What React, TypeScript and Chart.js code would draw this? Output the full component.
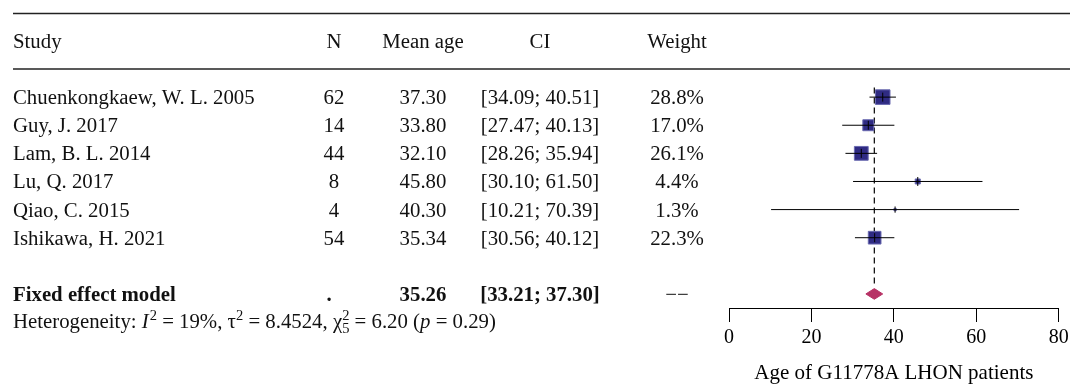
import React, { useEffect, useRef } from 'react';
import { Chart, registerables } from 'chart.js';

Chart.register(...registerables);

// ---------- data ----------
const headers = ['Study', 'N', 'Mean age', 'CI', 'Weight'];
const studies = [
  'Chuenkongkaew, W. L. 2005',
  'Guy, J. 2017',
  'Lam, B. L. 2014',
  'Lu, Q. 2017',
  'Qiao, C. 2015',
  'Ishikawa, H. 2021',
];
const sampleSizes = [62, 14, 44, 8, 4, 54];
const meanAges = [37.3, 33.8, 32.1, 45.8, 40.3, 35.34];
const ciLower = [34.09, 27.47, 28.26, 30.1, 10.21, 30.56];
const ciUpper = [40.51, 40.13, 35.94, 61.5, 70.39, 40.12];
const weights = [28.8, 17.0, 26.1, 4.4, 1.3, 22.3];
const pooledLabel = 'Fixed effect model';
const pooledMean = 35.26;
const pooledLower = 33.21;
const pooledUpper = 37.3;
const xTickValues = [0, 20, 40, 60, 80];
const axisTitle = 'Age of G11778A LHON patients';

const FAMILY = '"Liberation Serif", "Times New Roman", serif';
const POOLED_ROW = studies.length + 1;
const HET_ROW = POOLED_ROW + 1;

const COL_STUDY = 13;
const COL_N = 334;
const COL_MEAN = 423;
const COL_CI = 540;
const COL_WEIGHT = 677;
const TEXT_OFFSET = 7;
const FS = 20.8;

const tablePlugin = {
  id: 'forestTable',
  afterDraw(chart: any) {
    const ctx: CanvasRenderingContext2D = chart.ctx;
    const ys = chart.scales.y;
    const rowY = (r: number) => ys.getPixelForValue(r);
    ctx.save();
    // rules
    ctx.strokeStyle = '#222';
    ctx.lineWidth = 1.4;
    [rowY(-3) + 0.7, rowY(-1)].forEach((yy) => {
      ctx.beginPath();
      ctx.moveTo(COL_STUDY, yy);
      ctx.lineTo(1070, yy);
      ctx.stroke();
    });

    ctx.fillStyle = '#111';
    ctx.textBaseline = 'alphabetic';
    const reg = `${FS}px ${FAMILY}`;
    const bold = `bold ${FS}px ${FAMILY}`;
    const put = (t: string, x: number, y: number, align: CanvasTextAlign, font: string) => {
      ctx.font = font;
      ctx.textAlign = align;
      ctx.fillText(t, x, y);
    };
    // header
    const hy = rowY(-2) + TEXT_OFFSET;
    put(headers[0], COL_STUDY, hy, 'left', reg);
    put(headers[1], COL_N, hy, 'center', reg);
    put(headers[2], COL_MEAN, hy, 'center', reg);
    put(headers[3], COL_CI, hy, 'center', reg);
    put(headers[4], COL_WEIGHT, hy, 'center', reg);

    studies.forEach((s, i) => {
      const y = rowY(i) + TEXT_OFFSET;
      put(s, COL_STUDY, y, 'left', reg);
      put(String(sampleSizes[i]), COL_N, y, 'center', reg);
      put(meanAges[i].toFixed(2), COL_MEAN, y, 'center', reg);
      put(`[${ciLower[i].toFixed(2)}; ${ciUpper[i].toFixed(2)}]`, COL_CI, y, 'center', reg);
      put(`${weights[i].toFixed(1)}%`, COL_WEIGHT, y, 'center', reg);
    });

    const py = rowY(POOLED_ROW) + TEXT_OFFSET;
    put(pooledLabel, COL_STUDY, py, 'left', bold);
    put('.', COL_N - 5, py, 'center', bold);
    put(pooledMean.toFixed(2), COL_MEAN, py, 'center', bold);
    put(`[${pooledLower.toFixed(2)}; ${pooledUpper.toFixed(2)}]`, COL_CI, py, 'center', bold);
    put('\u2212\u2212', COL_WEIGHT, py, 'center', reg);

    // heterogeneity line with super/subscripts
    const hey = rowY(HET_ROW) + TEXT_OFFSET - 1;
    let x = COL_STUDY;
    const small = `14.5px ${FAMILY}`;
    const ital = `italic ${FS}px ${FAMILY}`;
    ctx.textAlign = 'left';
    const seg = (t: string, font: string, dy = 0) => {
      ctx.font = font;
      ctx.fillText(t, x, hey + dy);
      x += ctx.measureText(t).width;
    };
    seg('Heterogeneity: ', reg);
    seg('I', ital);
    x += 1;
    seg('2', small, -8);
    seg(' = 19%, \u03c4', reg);
    seg('2', small, -8);
    seg(' = 8.4524, \u03c7', reg);
    ctx.font = small;
    const w2 = ctx.measureText('2').width;
    ctx.fillText('2', x, hey - 8);
    ctx.fillText('5', x, hey + 5);
    x += w2;
    seg(' = 6.20 (', reg);
    seg('p', ital);
    seg(' = 0.29)', reg);
    ctx.restore();
  },
};

export default function App() {
  const ref = useRef<HTMLCanvasElement | null>(null);
  useEffect(() => {
    document.body.style.margin = '0';
    if (!ref.current) return;
    const points = meanAges.map((m, i) => ({ x: m, y: i }));
    const chart = new Chart(ref.current, {
      type: 'scatter',
      data: {
        datasets: [
          {
            type: 'line',
            label: 'reference',
            data: [
              { x: pooledMean, y: -0.34 },
              { x: pooledMean, y: POOLED_ROW - 0.25 },
            ],
            borderColor: '#000',
            borderWidth: 1.2,
            borderDash: [6, 4],
            pointRadius: 0,
            fill: false,
            order: 10,
          } as any,
          {
            type: 'line',
            label: 'pooled',
            data: [
              { x: pooledLower, y: POOLED_ROW },
              { x: pooledMean, y: POOLED_ROW - 0.19 },
              { x: pooledUpper, y: POOLED_ROW },
              { x: pooledMean, y: POOLED_ROW + 0.19 },
              { x: pooledLower, y: POOLED_ROW },
            ],
            borderColor: '#b73265',
            backgroundColor: '#b73265',
            borderWidth: 1,
            fill: 'shape',
            pointRadius: 0,
            tension: 0,
            order: 9,
          } as any,
          {
            type: 'scatter',
            label: 'weights',
            data: points,
            pointStyle: 'rect',
            pointRadius: weights.map((w) => (2.9 * Math.sqrt(w) - 1) / Math.SQRT2),
            backgroundColor: '#2f2b83',
            borderColor: '#6a6ab0',
            borderWidth: 1,
            order: 5,
          } as any,
          ...ciLower.map(
            (lo, i) =>
              ({
                type: 'line',
                label: studies[i],
                data: [
                  { x: lo, y: i },
                  { x: ciUpper[i], y: i },
                ],
                borderColor: '#000',
                borderWidth: 1,
                pointRadius: 0,
                fill: false,
                order: 3,
              } as any)
          ),
          {
            type: 'scatter',
            label: 'estimates',
            data: points,
            pointStyle: 'line',
            pointRotation: 90,
            pointRadius: weights.map((w) => Math.min(4.5, 1.5 + 1.42 * Math.sqrt(w))),
            borderColor: '#000',
            borderWidth: 1,
            order: 1,
          } as any,
        ],
      },
      options: {
        animation: false,
        responsive: false,
        events: [],
        layout: { padding: { left: 729, right: 9, top: 69, bottom: 0 } },
        plugins: { legend: { display: false }, tooltip: { enabled: false } },
        scales: {
          x: {
            type: 'linear',
            min: 0,
            max: 80,
            afterBuildTicks: (s: any) => {
              s.ticks = xTickValues.map((v) => ({ value: v }));
            },
            afterFit: (s: any) => {
              s.height = 83;
              s.paddingLeft = 0;
              s.paddingRight = 0;
            },
            grid: {
              display: true,
              drawOnChartArea: false,
              drawTicks: true,
              tickLength: 14,
              color: '#000',
              lineWidth: 1,
            },
            border: { display: true, color: '#000', width: 1 },
            ticks: {
              color: '#000',
              font: { family: FAMILY, size: 20 },
              padding: 4,
              maxRotation: 0,
              autoSkip: false,
            },
            title: {
              display: true,
              text: axisTitle,
              color: '#000',
              font: { family: FAMILY, size: 21 },
              padding: { top: 4, bottom: 5 },
            },
          },
          y: {
            type: 'linear',
            display: false,
            min: -1,
            max: POOLED_ROW + 0.5,
            reverse: true,
          },
        },
      } as any,
      plugins: [tablePlugin],
    });
    return () => chart.destroy();
  }, []);
  return (
    <div style={{ width: 1070, height: 391, background: '#fff' }}>
      <canvas ref={ref} width={1070} height={391} style={{ display: 'block' }} />
    </div>
  );
}
